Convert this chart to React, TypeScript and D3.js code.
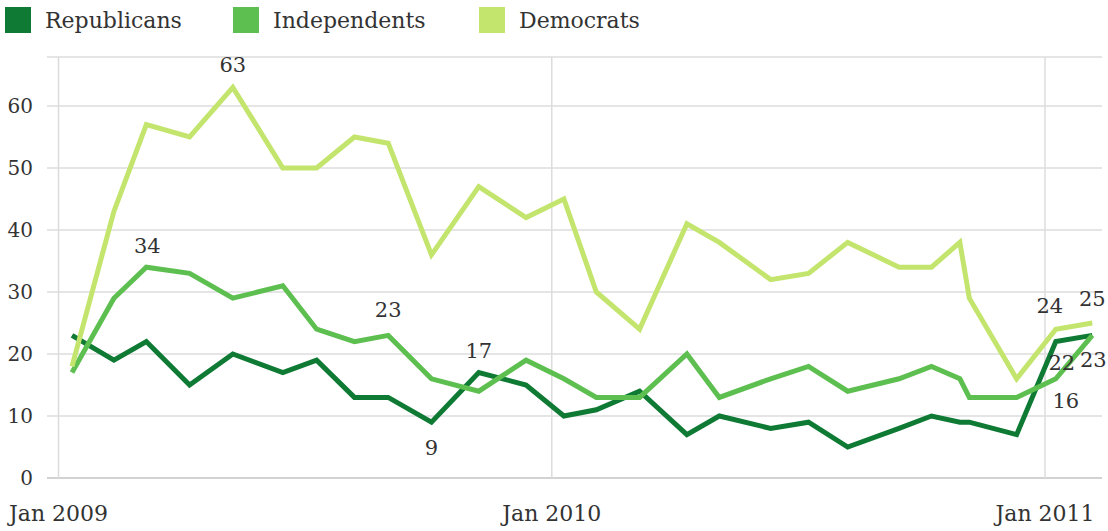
import React from "react";
import * as d3 from "d3";

const pollDates = [
  "2009-01-11", "2009-02-11", "2009-03-07", "2009-04-08", "2009-05-10", "2009-06-16",
  "2009-07-11", "2009-08-08", "2009-09-02", "2009-10-04", "2009-11-08", "2009-12-13",
  "2010-01-10", "2010-02-03", "2010-03-07", "2010-04-11", "2010-05-05", "2010-06-12",
  "2010-07-10", "2010-08-08", "2010-09-15", "2010-10-09", "2010-10-30", "2010-11-06",
  "2010-12-11", "2011-01-09", "2011-02-05",
];
const republicans = [23, 19, 22, 15, 20, 17, 19, 13, 13, 9, 17, 15, 10, 11, 14, 7, 10, 8, 9, 5, 8, 10, 9, 9, 7, 22, 23];
const independents = [17, 29, 34, 33, 29, 31, 24, 22, 23, 16, 14, 19, 16, 13, 13, 20, 13, 16, 18, 14, 16, 18, 16, 13, 13, 16, 23];
const democrats = [18, 43, 57, 55, 63, 50, 50, 55, 54, 36, 47, 42, 45, 30, 24, 41, 38, 32, 33, 38, 34, 34, 38, 29, 16, 24, 25];

const seriesNames = ["Republicans", "Independents", "Democrats"];
const seriesColors = ["#0e7a34", "#5dbf4f", "#c3e56d"];
const yTicks = [0, 10, 20, 30, 40, 50, 60];
const xTickDates = ["2009-01-01", "2010-01-01", "2011-01-01"];
const xTickLabels = ["Jan 2009", "Jan 2010", "Jan 2011"];

// annotations: series index, point index, label offset
const annotations = [
  { s: 2, i: 4, dx: 0, dy: -15 },
  { s: 1, i: 2, dx: 1, dy: -14 },
  { s: 1, i: 8, dx: 0, dy: -18 },
  { s: 0, i: 10, dx: 0, dy: -15 },
  { s: 0, i: 9, dx: 0, dy: 33 },
  { s: 2, i: 25, dx: -6, dy: -16 },
  { s: 2, i: 26, dx: 0, dy: -17 },
  { s: 0, i: 25, dx: 6, dy: 28 },
  { s: 1, i: 26, dx: 1, dy: 32 },
  { s: 1, i: 25, dx: 10, dy: 29 },
];

const FONT = "'DejaVu Serif', 'Liberation Serif', serif";
const TEXT = "#333";

export default function App() {
  const parse = d3.timeParse("%Y-%m-%d");
  const dates = pollDates.map((d) => parse(d) as Date);
  const series = [republicans, independents, democrats];

  const x = d3
    .scaleTime()
    .domain([parse("2009-01-01") as Date, parse("2011-01-01") as Date])
    .range([58.5, 1045]);
  const y = d3.scaleLinear().domain([0, 60]).range([478, 106]);

  const plotLeft = 47;
  const plotRight = 1102;
  const plotTop = 57;

  const line = (vals: number[]) =>
    d3
      .line<number>()
      .x((_, i) => x(dates[i]))
      .y((v) => y(v))(vals) as string;

  const legendX = [5, 233, 479];

  return (
    <svg
      width={1108}
      height={531}
      style={{ position: "absolute", left: 0, top: 0, background: "#fff" }}
      fontFamily={FONT}
    >
      <rect width={1108} height={531} fill="#fff" />
      {/* grid */}
      <line x1={plotLeft} x2={plotRight} y1={plotTop} y2={plotTop} stroke="#dcdcdc" strokeWidth={1.5} />
      {yTicks.map((t) => (
        <line
          key={"g" + t}
          x1={plotLeft}
          x2={plotRight}
          y1={y(t)}
          y2={y(t)}
          stroke={t === 0 ? "#d2d2d2" : "#dcdcdc"}
          strokeWidth={t === 0 ? 2 : 1.5}
        />
      ))}
      {xTickDates.map((d) => (
        <line
          key={"v" + d}
          x1={x(parse(d) as Date)}
          x2={x(parse(d) as Date)}
          y1={plotTop}
          y2={y(0)}
          stroke="#dcdcdc"
          strokeWidth={1.5}
        />
      ))}
      {/* y tick labels */}
      {yTicks.map((t) => (
        <text key={"yl" + t} x={33} y={y(t)} dy="0.35em" textAnchor="end" fontSize={20} fill={TEXT}>
          {t}
        </text>
      ))}
      {/* x tick labels */}
      {xTickDates.map((d, i) => (
        <text key={"xl" + d} x={x(parse(d) as Date)} y={521} textAnchor="middle" fontSize={22} fill={TEXT}>
          {xTickLabels[i]}
        </text>
      ))}
      {/* lines */}
      {series.map((vals, s) => (
        <path
          key={"l" + s}
          d={line(vals)}
          fill="none"
          stroke={seriesColors[s]}
          strokeWidth={5}
          strokeLinejoin="miter"
          strokeMiterlimit={3}
        />
      ))}
      {/* annotations */}
      {annotations.map((a, k) => (
        <text
          key={"a" + k}
          x={x(dates[a.i]) + a.dx}
          y={y(series[a.s][a.i]) + a.dy}
          textAnchor="middle"
          fontSize={21}
          fill={TEXT}
        >
          {series[a.s][a.i]}
        </text>
      ))}
      {/* legend */}
      {seriesNames.map((n, s) => (
        <g key={"lg" + s}>
          <rect x={legendX[s]} y={7} width={26} height={26} fill={seriesColors[s]} />
          <text x={legendX[s] + 40} y={28} fontSize={22} fill={TEXT}>
            {n}
          </text>
        </g>
      ))}
    </svg>
  );
}
